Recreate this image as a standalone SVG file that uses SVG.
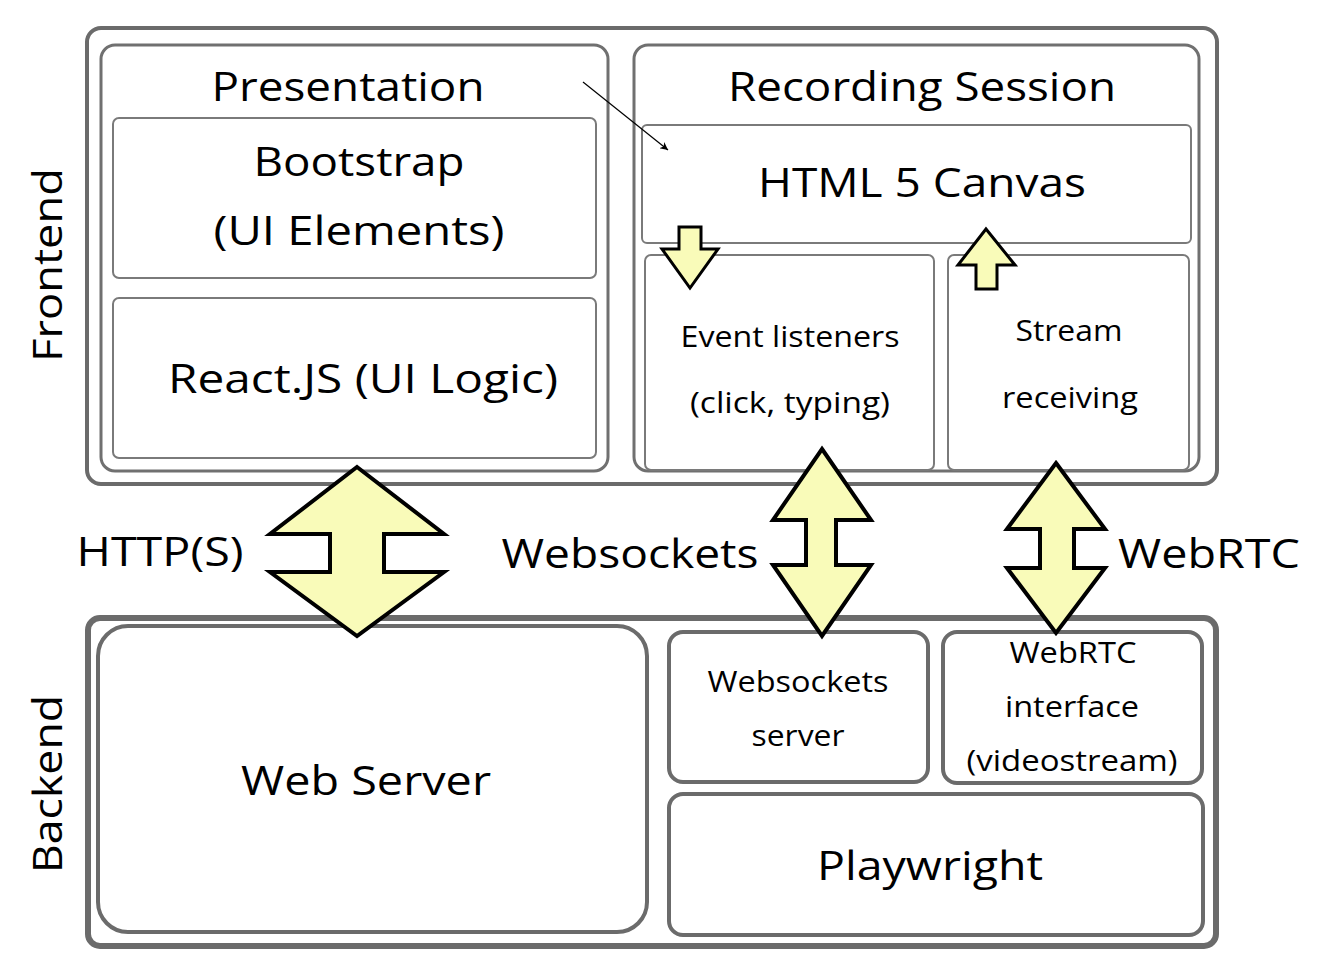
<svg xmlns="http://www.w3.org/2000/svg" width="1324" height="976" viewBox="0 0 1324 976">
<style>
.t{font-family:"Open Sans","Noto Sans",sans-serif;fill:#000;text-anchor:middle}
.L{font-size:41px}
.S{font-size:30px}
.outer{fill:none;stroke:#6b6b6b;stroke-width:4}
.mid{fill:none;stroke:#707070;stroke-width:3}
.inner{fill:none;stroke:#7a7a7a;stroke-width:2}
.be{fill:none;stroke:#6b6b6b;stroke-width:4}
.ya{fill:#f9fbb9;stroke:#000;stroke-width:4;stroke-linejoin:miter}
.ys{fill:#f9fbb9;stroke:#000;stroke-width:3}
</style>
<defs>
<marker id="ah" viewBox="0 0 10 10" refX="10" refY="5" markerWidth="10" markerHeight="8" markerUnits="userSpaceOnUse" orient="auto">
<path d="M0,0 L10,5 L0,10 L3,5 z" fill="#000"/>
</marker>
</defs>
<rect width="1324" height="976" fill="#fff"/>

<g id="frontend">
<rect class="outer" x="87" y="28" width="1130" height="456" rx="14"/>
<text class="t L" transform="translate(62,265) rotate(-90)" textLength="194" lengthAdjust="spacingAndGlyphs">Frontend</text>
</g>

<g id="presentation">
<rect class="mid" x="101" y="45" width="507" height="426" rx="14"/>
<text class="t L" x="348" y="101" textLength="273" lengthAdjust="spacingAndGlyphs">Presentation</text>
</g>
<g id="bootstrap">
<rect class="inner" x="113" y="118" width="483" height="160" rx="6"/>
<text class="t L" x="359" y="176" textLength="211" lengthAdjust="spacingAndGlyphs">Bootstrap</text>
<text class="t L" x="359" y="245" textLength="291" lengthAdjust="spacingAndGlyphs">(UI Elements)</text>
</g>
<g id="react">
<rect class="inner" x="113" y="298" width="483" height="160" rx="6"/>
<text class="t L" x="363" y="393" textLength="390" lengthAdjust="spacingAndGlyphs">React.JS (UI Logic)</text>
</g>

<g id="recording">
<rect class="mid" x="634" y="45" width="565" height="426" rx="14"/>
<text class="t L" x="922" y="101" textLength="388" lengthAdjust="spacingAndGlyphs">Recording Session</text>
</g>
<g id="canvas">
<rect class="inner" x="642" y="125" width="549" height="118" rx="5"/>
<text class="t L" x="922" y="197" textLength="328" lengthAdjust="spacingAndGlyphs">HTML 5 Canvas</text>
</g>
<g id="events">
<rect class="inner" x="645" y="255" width="289" height="215" rx="6"/>
<text class="t S" x="790" y="347" textLength="219" lengthAdjust="spacingAndGlyphs">Event listeners</text>
<text class="t S" x="790" y="413" textLength="200" lengthAdjust="spacingAndGlyphs">(click, typing)</text>
</g>
<g id="stream">
<rect class="inner" x="948" y="255" width="241" height="215" rx="6"/>
<text class="t S" x="1069" y="341" textLength="107" lengthAdjust="spacingAndGlyphs">Stream</text>
<text class="t S" x="1070" y="408" textLength="136" lengthAdjust="spacingAndGlyphs">receiving</text>
</g>

<g id="backend">
<rect fill="none" stroke="#6b6b6b" stroke-width="6" x="88" y="618" width="1128" height="328" rx="12"/>
<text class="t L" transform="translate(62,784) rotate(-90)" textLength="178" lengthAdjust="spacingAndGlyphs">Backend</text>
</g>
<g id="webserver">
<rect class="be" x="98" y="626" width="549" height="306" rx="30"/>
<text class="t L" x="366" y="795" textLength="250" lengthAdjust="spacingAndGlyphs">Web Server</text>
</g>
<g id="wsserver">
<rect class="be" x="669" y="632" width="259" height="150" rx="14"/>
<text class="t S" x="798" y="692" textLength="181" lengthAdjust="spacingAndGlyphs">Websockets</text>
<text class="t S" x="798" y="746" textLength="93" lengthAdjust="spacingAndGlyphs">server</text>
</g>
<g id="webrtc">
<rect class="be" x="943" y="632" width="259" height="151" rx="14"/>
<text class="t S" x="1073" y="663" textLength="127" lengthAdjust="spacingAndGlyphs">WebRTC</text>
<text class="t S" x="1072" y="717" textLength="134" lengthAdjust="spacingAndGlyphs">interface</text>
<text class="t S" x="1072" y="771" textLength="211" lengthAdjust="spacingAndGlyphs">(videostream)</text>
</g>
<g id="playwright">
<rect class="be" x="669" y="794" width="534" height="141" rx="14"/>
<text class="t L" x="930" y="880" textLength="226" lengthAdjust="spacingAndGlyphs">Playwright</text>
</g>

<g id="connectors">
<line x1="583" y1="82" x2="668" y2="150" stroke="#000" stroke-width="1.3" marker-end="url(#ah)"/>
<polygon class="ys" points="679,227 701,227 701,249 718,249 690,288 662,249 679,249"/>
<polygon class="ys" points="986,229 1015,265 997,265 997,289 976,289 976,265 958,265"/>
<polygon class="ya" points="357,467 444,534 384,534 384,572 444,572 357,636 270,572 330,572 330,534 270,534"/>
<polygon class="ya" points="822,449 871,520 836,520 836,565 871,565 822,636 773,565 806,565 806,520 773,520"/>
<polygon class="ya" points="1056,463 1105,529 1074,529 1074,568 1105,568 1056,633 1007,568 1040,568 1040,529 1007,529"/>
<text class="t L" x="160" y="566" textLength="167" lengthAdjust="spacingAndGlyphs">HTTP(S)</text>
<text class="t L" x="630" y="568" textLength="257" lengthAdjust="spacingAndGlyphs">Websockets</text>
<text class="t L" x="1209" y="568" textLength="182" lengthAdjust="spacingAndGlyphs">WebRTC</text>
</g>
</svg>
